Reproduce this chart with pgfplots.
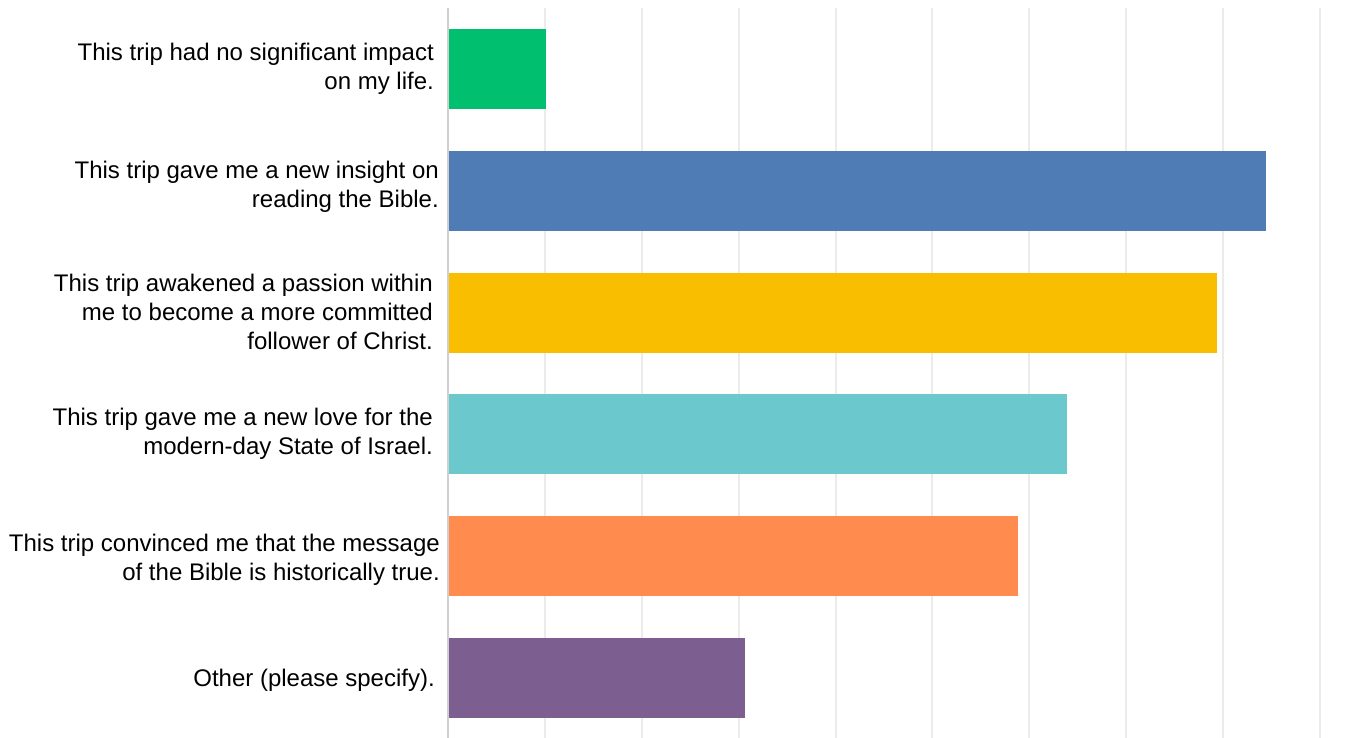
\documentclass[border=0pt]{standalone}
\usepackage{pgfplots}
\pgfplotsset{compat=1.18}
\usepackage{fontspec}
\setmainfont{Liberation Sans}
\definecolor{cgreen}{HTML}{00BF6F}
\definecolor{cblue}{HTML}{507CB6}
\definecolor{cyellow}{HTML}{F9BE00}
\definecolor{cteal}{HTML}{6BC8CD}
\definecolor{corange}{HTML}{FF8B4F}
\definecolor{cpurple}{HTML}{7D5E90}
\definecolor{cgrid}{HTML}{EBEBEB}
\definecolor{caxis}{HTML}{CFCFCF}
\newcommand{\lab}[3]{\raisebox{#2pt}[\height][\depth]{\begin{tabular}{@{}r@{\hspace{#1pt}}}#3\end{tabular}}}
\begin{document}
\fontsize{24}{29}\selectfont
\begin{tikzpicture}
\begin{axis}[
  at={(448pt,-1pt)}, anchor=south west,
  scale only axis,
  width=872pt, height=731pt,
  xbar, bar width=80pt, bar shift=0pt,
  xmin=0, xmax=90,
  ymin=-0.5, ymax=5.5, y dir=reverse,
  xtick={0,10,...,90}, xticklabels={},
  ytick={0,1,2,3,4,5},
  yticklabels={
    {\lab{6}{0}{This trip had no significant impact\\on my life.}},
    {\lab{1}{4}{This trip gave me a new insight on\\reading the Bible.}},
    {\lab{7}{-2}{This trip awakened a passion within\\me to become a more committed\\follower of Christ.}},
    {\lab{7}{0}{This trip gave me a new love for the\\modern-day State of Israel.}},
    {\lab{0}{-4}{This trip convinced me that the message\\of the Bible is historically true.}},
    {\lab{5}{-3}{Other (please specify).}}},
  yticklabel style={font=\fontsize{24}{29}\selectfont, inner sep=0pt, xshift=-8pt},
  major tick length=0pt,
  xmajorgrids, grid style={cgrid, line width=2pt},
  axis line style={draw=none},
  axis x line*=bottom, axis y line*=left,
  clip=false,
]
\addplot[fill=cgreen, draw=none] coordinates {(10.1,0)};
\addplot[fill=cblue, draw=none] coordinates {(84.45,1)};
\addplot[fill=cyellow, draw=none] coordinates {(79.4,2)};
\addplot[fill=cteal, draw=none] coordinates {(63.9,3)};
\addplot[fill=corange, draw=none] coordinates {(58.85,4)};
\addplot[fill=cpurple, draw=none] coordinates {(30.7,5)};
\draw[caxis, line width=2pt] (axis cs:0,-0.5) -- (axis cs:0,5.5);
\end{axis}
\pgfresetboundingbox
\path (0,0) rectangle (1361pt,738pt);
\end{tikzpicture}
\end{document}
